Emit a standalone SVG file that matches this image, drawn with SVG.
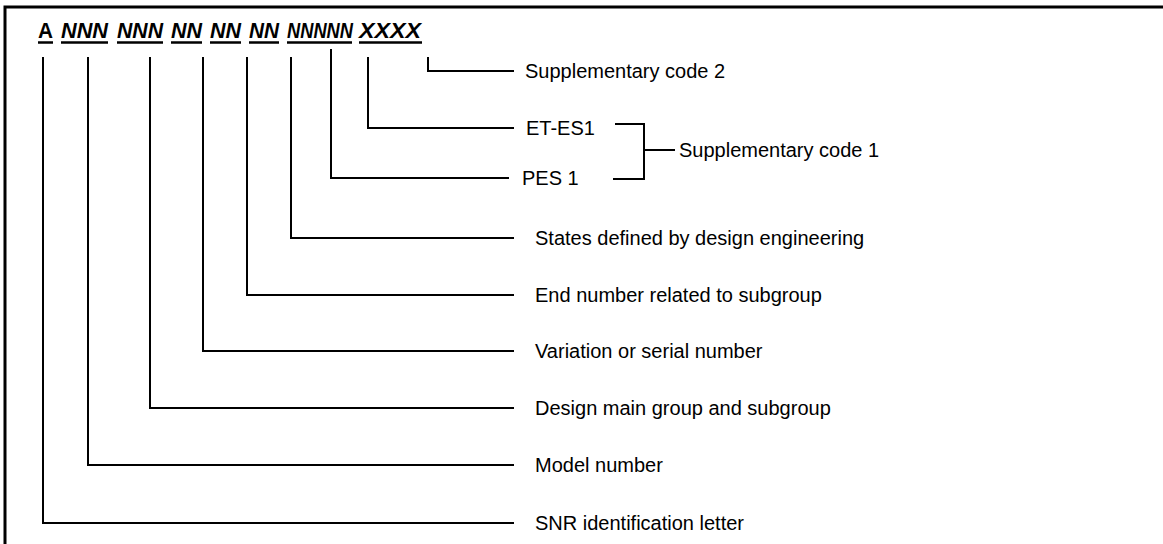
<svg xmlns="http://www.w3.org/2000/svg" width="1163" height="544" viewBox="0 0 1163 544">
<style>
.frame{fill:none;stroke:#000;stroke-width:3}
.conn{fill:none;stroke:#000;stroke-width:2}
.ul{stroke:#000;stroke-width:2.5}
.lbl{font-family:"Liberation Sans",Arial,sans-serif;font-size:20px;fill:#000}
.hd{font-family:"Liberation Sans",Arial,sans-serif;font-size:21.5px;font-weight:bold;font-style:italic;fill:#000}
.up{font-style:normal}
</style>
<rect width="1163" height="544" fill="#fff"/>
<rect class="frame" x="5" y="7" width="1200" height="600"/>
<g id="header">
<g id="seg-a"><text class="hd up" x="38" y="38" textLength="15" lengthAdjust="spacingAndGlyphs">A</text><line class="ul" x1="38" y1="42.5" x2="53" y2="42.5"/></g>
<g id="seg-model"><text class="hd" x="61" y="38" textLength="47" lengthAdjust="spacingAndGlyphs">NNN</text><line class="ul" x1="61" y1="42.5" x2="108" y2="42.5"/></g>
<g id="seg-group"><text class="hd" x="117" y="38" textLength="46" lengthAdjust="spacingAndGlyphs">NNN</text><line class="ul" x1="117" y1="42.5" x2="163" y2="42.5"/></g>
<g id="seg-variation"><text class="hd" x="171" y="38" textLength="31" lengthAdjust="spacingAndGlyphs">NN</text><line class="ul" x1="171" y1="42.5" x2="202" y2="42.5"/></g>
<g id="seg-end"><text class="hd" x="210" y="38" textLength="31" lengthAdjust="spacingAndGlyphs">NN</text><line class="ul" x1="210" y1="42.5" x2="241" y2="42.5"/></g>
<g id="seg-states"><text class="hd" x="249" y="38" textLength="30" lengthAdjust="spacingAndGlyphs">NN</text><line class="ul" x1="249" y1="42.5" x2="279" y2="42.5"/></g>
<g id="seg-supp1"><text class="hd" x="287" y="38" textLength="66" lengthAdjust="spacingAndGlyphs">NNNNN</text><line class="ul" x1="287" y1="42.5" x2="352" y2="42.5"/></g>
<g id="seg-supp2"><text class="hd" x="359" y="38" textLength="62" lengthAdjust="spacingAndGlyphs">XXXX</text><line class="ul" x1="359" y1="42.5" x2="422" y2="42.5"/></g>
</g>
<g id="connectors">
<path class="conn" d="M43 57V523H514"/>
<path class="conn" d="M88 57V465H514"/>
<path class="conn" d="M150 57V408H514"/>
<path class="conn" d="M203 57V351H514"/>
<path class="conn" d="M247 57V295H514"/>
<path class="conn" d="M291 57V238H514"/>
<path class="conn" d="M331 49V178H509"/>
<path class="conn" d="M368 57V128H514"/>
<path class="conn" d="M428 57V71H514"/>
<path class="conn" d="M615 124H644V179H613M644 150H675"/>
</g>
<g id="label-supp2"><text class="lbl" x="525" y="78">Supplementary code 2</text></g>
<g id="label-etes1"><text class="lbl" x="526" y="135">ET-ES1</text></g>
<g id="label-pes1"><text class="lbl" x="522" y="185">PES 1</text></g>
<g id="label-supp1"><text class="lbl" x="679" y="157">Supplementary code 1</text></g>
<g id="label-states"><text class="lbl" x="535" y="245">States defined by design engineering</text></g>
<g id="label-end"><text class="lbl" x="535" y="302">End number related to subgroup</text></g>
<g id="label-variation"><text class="lbl" x="535" y="358">Variation or serial number</text></g>
<g id="label-design"><text class="lbl" x="535" y="415">Design main group and subgroup</text></g>
<g id="label-model"><text class="lbl" x="535" y="472">Model number</text></g>
<g id="label-snr"><text class="lbl" x="535" y="530">SNR identification letter</text></g>
</svg>
